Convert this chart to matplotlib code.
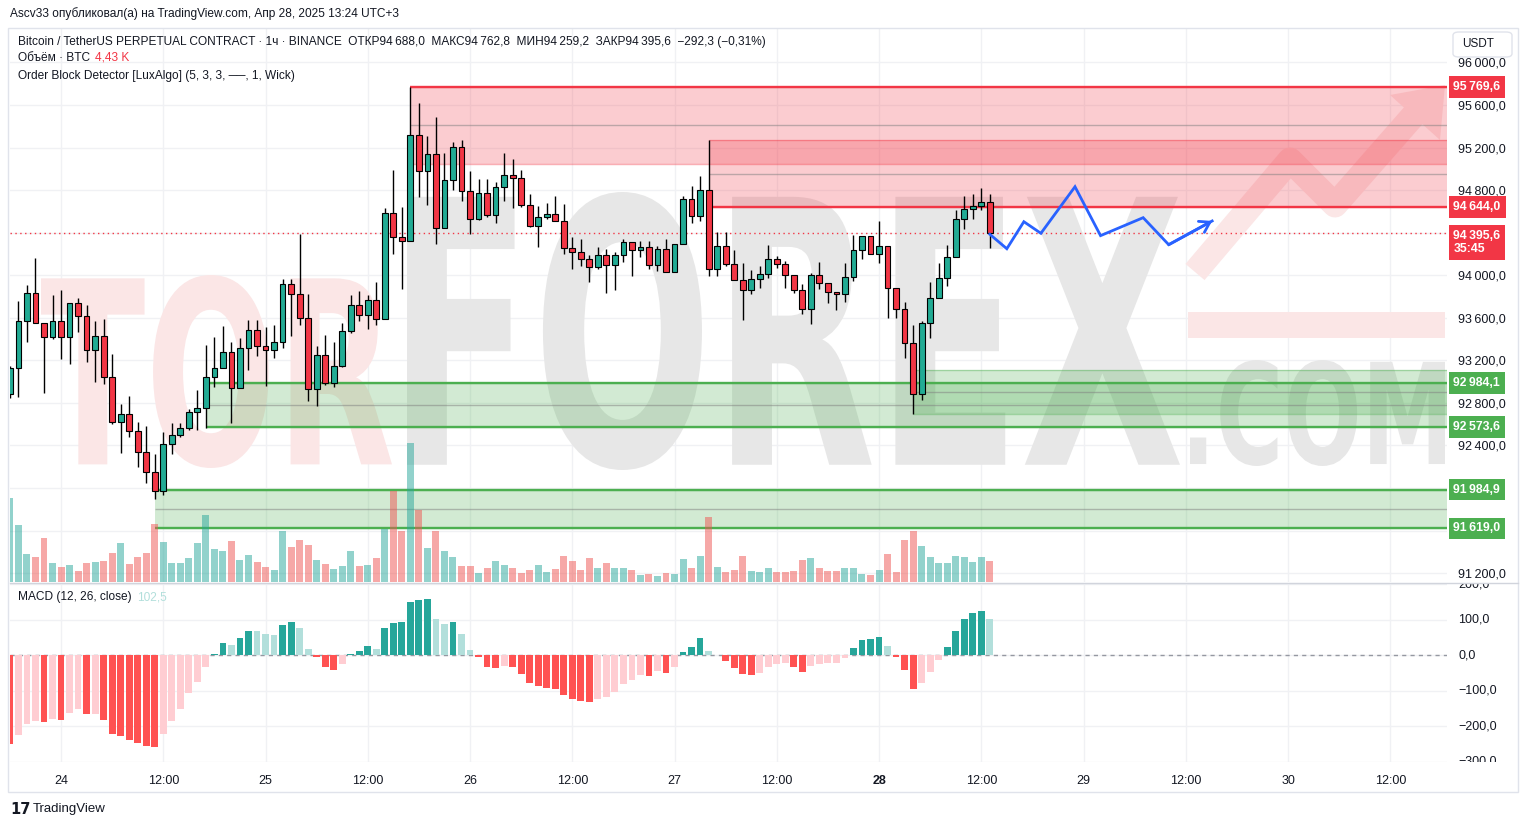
import numpy as np
import pandas as pd
import matplotlib
matplotlib.use("Agg")
import matplotlib.pyplot as plt
from matplotlib.patches import Rectangle, PathPatch, FancyBboxPatch, Polygon
from matplotlib.lines import Line2D
from matplotlib.textpath import TextPath
from matplotlib.font_manager import FontProperties
from matplotlib.transforms import Affine2D, Bbox

plt.rcParams['font.family'] = ['Liberation Sans', 'DejaVu Sans']

W, H = 1528, 827

# BTCUSDT.P 1h, 23 Apr 18:00 .. 28 Apr 13:00 (UTC+3)
first_bar = "2025-04-23 18:00"
first_open = 92880
closes = [93125, 93570, 93829, 93548, 93416, 93570, 93423, 93735, 93613, 93297,
          93432, 93044, 92619, 92694, 92534, 92337, 92149, 91974, 92412, 92497,
          92562, 92712, 92750, 93041, 93125, 93275, 92938, 93313, 93485, 93335,
          93297, 93369, 93914, 93820, 93595, 92928, 93250, 92991, 93147, 93473,
          93716, 93623, 93763, 93585, 94589, 94355, 94326, 95321, 94983, 95143,
          94448, 94899, 95205, 94796, 94533, 94777, 94570, 94830, 94946, 94918,
          94664, 94464, 94549, 94571, 94505, 94252, 94214, 94148, 94080, 94186,
          94092, 94186, 94308, 94236, 94261, 94092, 94242, 94026, 94298, 94721,
          94561, 94805, 94055, 94270, 94101, 93954, 93857, 93961, 94008, 94148,
          94101, 93998, 93857, 93679, 93998, 93923, 93839, 93820, 93986, 94233,
          94373, 94195, 94270, 93879, 93679, 93360, 92885, 93548, 93782, 93970,
          94167, 94524, 94627, 94649, 94688, 94395.6]
highs = [93150, 93757, 93907, 94158, 93548, 93813, 93860, 93735, 93782, 93720,
         93570, 93585, 93257, 92788, 92860, 92619, 92584, 92321, 92522, 92609,
         92609, 92744, 92922, 93344, 93422, 93523, 93372, 93413, 93579, 93579,
         93516, 93532, 93964, 93964, 94392, 93820, 93335, 93438, 93376, 93547,
         93813, 93854, 93813, 93939, 94633, 94986, 94642, 95770, 95618, 95305,
         95487, 95149, 95252, 95268, 94980, 94902, 94902, 94877, 95149, 95090,
         94993, 94761, 94649, 94683, 94743, 94668, 94361, 94345, 94189, 94267,
         94245, 94220, 94345, 94308, 94320, 94320, 94273, 94339, 94298, 94743,
         94836, 94930, 95268, 94402, 94402, 94236, 94111, 94048, 94086, 94283,
         94180, 94133, 93998, 93914, 94017, 94120, 93923, 93839, 94111, 94377,
         94373, 94373, 94508, 94270, 93879, 93745, 93532, 93573, 93932, 94111,
         94283, 94617, 94743, 94768, 94824, 94762.8]
lows = [92850, 92853, 93376, 93548, 92897, 93404, 93210, 93169, 93469, 93188,
        93000, 92975, 92600, 92328, 92478, 92196, 92046, 91896, 91937, 92318,
        92480, 92547, 92547, 92562, 92953, 93125, 92615, 92938, 93110, 93241,
        92963, 93225, 93319, 93432, 93532, 92813, 92775, 92969, 92953, 93135,
        93454, 93573, 93491, 93532, 93585, 94204, 93867, 94326, 94736, 94658,
        94298, 94448, 94799, 94699, 94386, 94520, 94549, 94492, 94699, 94633,
        94643, 94455, 94267, 94524, 94505, 94198, 94061, 94086, 93939, 94055,
        93829, 93861, 94126, 93995, 94173, 94061, 94042, 94026, 94026, 94298,
        94492, 94511, 93995, 93995, 94086, 93954, 93579, 93820, 93876, 93970,
        94064, 93882, 93829, 93632, 93538, 93867, 93736, 93673, 93745, 93945,
        94148, 94195, 94111, 93595, 93595, 93219, 92697, 92828, 93407, 93782,
        93901, 94167, 94430, 94533, 94617, 94259.2]
volumes_k = [17.6, 12.0, 5.9, 5.3, 9.2, 4.0, 3.2, 3.6, 2.3, 4.0,
             4.2, 4.4, 6.1, 8.2, 3.8, 5.3, 6.1, 12.2, 8.4, 4.0,
             4.0, 5.0, 8.2, 14.1, 6.9, 6.5, 8.6, 4.6, 5.7, 4.2,
             3.2, 2.5, 10.7, 7.4, 8.8, 7.8, 4.6, 3.8, 2.7, 3.4,
             6.5, 3.4, 3.6, 5.0, 11.1, 19.1, 10.7, 29.0, 15.1, 7.1,
             10.7, 6.5, 5.3, 3.4, 3.4, 1.9, 2.9, 4.4, 3.6, 2.9,
             1.9, 2.5, 3.6, 2.1, 2.7, 5.5, 4.4, 2.5, 5.0, 2.9,
             4.0, 2.9, 2.9, 2.5, 1.5, 1.7, 1.3, 1.9, 1.7, 4.8,
             2.9, 5.5, 13.7, 3.2, 2.1, 2.5, 5.5, 2.3, 2.1, 2.9,
             2.1, 2.1, 2.3, 4.6, 5.0, 2.9, 2.3, 2.3, 2.9, 2.9,
             1.7, 1.5, 2.5, 5.9, 2.1, 8.8, 10.7, 7.6, 5.3, 4.0,
             4.0, 5.5, 5.3, 4.2, 5.3, 4.43]
macd_hist = [-250, -225, -192, -186, -189, -180, -182, -161, -152, -166,
             -164, -183, -220, -228, -239, -248, -256, -259, -222, -186,
             -150, -107, -74, -32, 4, 35, 29, 49, 68, 67,
             60, 57, 85, 93, 77, 18, -5, -33, -41, -24,
             4, 12, 26, 18, 77, 91, 93, 150, 155, 158,
             102, 88, 93, 60, 15, -5, -33, -36, -30, -33,
             -52, -78, -86, -92, -94, -111, -122, -128, -131, -122,
             -117, -103, -80, -69, -55, -58, -44, -50, -33, 9,
             23, 49, 12, 0.5, -16, -36, -52, -55, -50, -33,
             -24, -23, -33, -47, -30, -24, -23, -21, -7, 21,
             43, 46, 51, 26, -5, -41, -94, -78, -47, -13,
             23, 68, 102, 119, 124, 102.5]

# order blocks (LuxAlgo)
ob_start = ["2025-04-25 17:00", "2025-04-27 04:00", "2025-04-24 17:00",
            "2025-04-28 04:00", "2025-04-24 11:00"]
ob_top = [95769.6, 95268, 92984.1, 93110, 91984.9]
ob_bottom = [95050, 94644.0, 92573.6, 92697, 91619.0]
ob_bull = [False, False, True, True, True]
level_values = [95769.6, 94644.0, 92984.1, 92573.6, 91984.9, 91619.0]
level_start = ["2025-04-25 17:00", "2025-04-27 04:00", "2025-04-24 17:00",
               "2025-04-24 17:00", "2025-04-24 11:00", "2025-04-24 11:00"]
level_bull = [False, False, True, True, True, True]

# hand-drawn projection
proj_time = ["2025-04-28 13:00", "2025-04-28 15:00", "2025-04-28 17:00",
             "2025-04-28 19:00", "2025-04-28 23:00", "2025-04-29 02:00",
             "2025-04-29 07:00", "2025-04-29 10:00", "2025-04-29 15:06"]
proj_price = [94385, 94249, 94503, 94394, 94832, 94372, 94541, 94287, 94510]

time_ticks = ["24", "12:00", "25", "12:00", "26", "12:00", "27", "12:00",
              "28", "12:00", "29", "12:00", "30", "12:00"]

TEAL, RED = "#22ab94", "#f23645"
GREEN = "#4caf50"
TXT = "#131722"

t0 = pd.Timestamp("2025-04-24 00:00")
hours = lambda t: ((pd.to_datetime(t) - t0) / pd.Timedelta(hours=1))

times = pd.date_range(first_bar, periods=len(closes), freq="h")
x = np.asarray(hours(times), dtype=float)
closes = np.array(closes, dtype=float)
opens = np.r_[first_open, closes[:-1]]
up = closes >= opens


def fmt(v):
    s = f"{abs(v):,.1f}".replace(",", "\u2009").replace(".", ",")
    return ("\u2212" if v < 0 else "") + s


fig = plt.figure(figsize=(W / 100, H / 100), dpi=100)
fig.patch.set_facecolor("white")
L, R = 10, 1447
ax = fig.add_axes([L / W, 1 - 582 / H, (R - L) / W, (582 - 28) / H])
mx = fig.add_axes([L / W, 1 - 762 / H, (R - L) / W, (762 - 583) / H], sharex=ax)
vx = ax.twinx()

xlim = (-5.99, 162.66)
ax.set_xlim(*xlim)
ax.set_ylim(91116, 96324)
mx.set_ylim(-297, 203)
vx.set_ylim(0, max(volumes_k) * 4.0)

for a in (ax, mx, vx):
    for s in a.spines.values():
        s.set_visible(False)
vx.axis("off")

ax.set_axisbelow(True)
mx.set_axisbelow(True)
ax.grid(True, color="#f0f1f4", lw=1)
mx.grid(True, color="#f0f1f4", lw=1)

# watermark (pixel layout)
px = Affine2D().scale(1, -1).translate(0, H).scale(1 / W, 1 / H) + fig.transFigure


def watermark(text, x0, y0, x1, y1, color):
    tp = TextPath((0, 0), text, size=100,
                  prop=FontProperties(family="DejaVu Sans", weight="bold"))
    e = tp.get_extents()
    tr = (Affine2D().translate(-e.x0, -e.y0)
          .scale((x1 - x0) / e.width, (y1 - y0) / e.height)
          .translate(x0, H - y1).scale(1 / W, 1 / H) + fig.transFigure)
    ax.add_patch(PathPatch(tp, transform=tr, fc=color, ec="none", zorder=0.8))


watermark("TOR", 41, 275, 392, 468, "#fbe6e6")
watermark("FOREX", 407, 192, 1180, 470, "#e7e7e7")
watermark(".COM", 1190, 360, 1445, 466, "#e7e7e7")
ax.add_patch(Rectangle((1188, 312), 257, 26, transform=px, fc="#fbe6e6", ec="none", zorder=0.8))
ax.add_line(Line2D([1195, 1290, 1335, 1420], [272, 160, 205, 108], transform=px,
                   color="#fbe6e6", lw=18, solid_capstyle="butt", zorder=0.8))
ax.add_patch(Polygon([[1390, 95], [1445, 85], [1440, 140]], closed=True, transform=px,
                     fc="#fbe6e6", ec="none", zorder=0.8))

# order blocks
xr = xlim[1] + 5
for s, top, bot, bull in zip(ob_start, ob_top, ob_bottom, ob_bull):
    xs = hours(s)
    c = GREEN if bull else RED
    ax.add_patch(Rectangle((xs, bot), xr - xs, top - bot, fc=c, alpha=0.25, ec="none", zorder=1))
    ax.hlines([top, bot], xs, xr, colors=c, alpha=0.4, lw=1, zorder=1.2)
    ax.hlines((top + bot) / 2, xs, xr, colors="#7f7f7f", alpha=0.5, lw=1, zorder=1.2)
for v, s, bull in zip(level_values, level_start, level_bull):
    ax.hlines(v, hours(s), xr, colors=GREEN if bull else RED, lw=1.7, zorder=1.5)

# candles
ax.vlines(x, lows, highs, color="black", lw=1, zorder=3)
ax.bar(x, closes - opens, bottom=opens, width=0.68, color=np.where(up, TEAL, RED),
       edgecolor="black", linewidth=0.8, zorder=4)
ax.axhline(closes[-1], color=RED, ls=(0, (1, 2.5)), lw=1, zorder=2)

# volume
vx.bar(x, volumes_k, width=0.82, color=np.where(up, "#26a69a", "#ef5350"), alpha=0.5, zorder=2)

# projection
pxs = np.asarray(hours(proj_time), dtype=float)
ax.plot(pxs, proj_price, color="#2962ff", lw=2, zorder=6, solid_joinstyle="miter")
ax.annotate("", xy=(pxs[-1], proj_price[-1]), xytext=(pxs[-2], proj_price[-2]),
            arrowprops=dict(arrowstyle="->,head_length=0.7,head_width=0.45", color="#2962ff",
                            lw=2, shrinkA=0, shrinkB=0), zorder=6)

# price scale
ax.yaxis.tick_right()
pticks = np.arange(91200, 96001, 400)
hidden = {94400, 92000, 91600}
ax.set_yticks(pticks)
ax.set_yticklabels(["" if int(t) in hidden else fmt(t) for t in pticks])
ax.tick_params(axis="y", length=0, pad=8, labelsize=9, labelcolor=TXT)
ax.tick_params(axis="x", length=0, labelbottom=False)
vx.set_zorder(ax.get_zorder() + 0.1)


def tag(y, text, color, va="center", dy=0):
    ax.annotate(text, xy=(1, y), xycoords=ax.get_yaxis_transform(), xytext=(4.6, dy),
                textcoords="offset points", ha="left", va=va, color="white",
                fontsize=8.8, fontweight="bold", linespacing=1.2,
                bbox=dict(boxstyle="square,pad=0.4", fc=color, ec="none"),
                annotation_clip=False, zorder=10)


for v, bull in zip(level_values, level_bull):
    tag(v, fmt(v), GREEN if bull else RED)
tag(closes[-1], fmt(closes[-1]) + "\n35:45", RED, va="top", dy=2.5)

# MACD
macd = np.array(macd_hist, dtype=float)
prev = np.r_[0, macd[:-1]]
rising = macd >= prev
mcol = np.where(macd >= 0, np.where(rising, "#26a69a", "#b2dfdb"),
                np.where(rising, "#ffcdd2", "#ff5252"))
mx.bar(x, macd, width=0.8, color=mcol, zorder=2)
mx.axhline(0, color="#9598a1", ls=(0, (3, 3)), lw=1, zorder=1.5)
mx.set_yticks(np.arange(-300, 201, 100))
mx.tick_params(axis="y", left=False, right=False, labelleft=False, length=0)
mx.set_xticks(np.arange(0, 157, 12))
mx.set_xticklabels(time_ticks)
mx.tick_params(axis="x", length=0, pad=9, labelsize=9, labelcolor=TXT)
mx.get_xticklabels()[8].set_fontweight("bold")
clip = Bbox([[R, H - 762], [W, H - 583]])
for v in np.arange(-300, 201, 100):
    t = mx.annotate(fmt(v), xy=(1, v), xycoords=mx.get_yaxis_transform(), xytext=(8, 0),
                    textcoords="offset points", ha="left", va="center", fontsize=9,
                    color=TXT, annotation_clip=False)
    t.set_clip_box(clip)
    t.set_clip_on(True)

# frame and separators
fig.add_artist(Rectangle((8 / W, 1 - 792 / H), 1510 / W, 764 / H, transform=fig.transFigure,
                         fill=False, ec="#e0e3eb", lw=1))
fig.add_artist(Line2D([L / W, 1518 / W], [1 - 582.5 / H] * 2, transform=fig.transFigure,
                      color="#d1d4dc", lw=1))
fig.add_artist(FancyBboxPatch((1453 / W, 1 - 57 / H), 59 / W, 25 / H,
                              boxstyle="round,pad=0,rounding_size=0.004",
                              transform=fig.transFigure, fc="white", ec="#e0e3eb", lw=1))
fig.text(1462 / W, 1 - 44 / H, "USDT", fontsize=8.5, color=TXT, va="center")

# texts
fig.text(10 / W, 1 - 14 / H, "Ascv33 опубликовал(а) на TradingView.com, Апр 28, 2025 13:24 UTC+3",
         fontsize=8.6, color=TXT, va="center")
fig.text(18 / W, 1 - 42 / H,
         "Bitcoin / TetherUS PERPETUAL CONTRACT · 1ч · BINANCE  ОТКР94\u2009688,0  МАКС94\u2009762,8  "
         "МИН94\u2009259,2  ЗАКР94\u2009395,6  \u2212292,3 (\u22120,31%)",
         fontsize=8.6, color=TXT, va="center")
fig.text(18 / W, 1 - 58 / H, "Объём · BTC", fontsize=8.6, color=TXT, va="center")
fig.text(95 / W, 1 - 58 / H, "4,43 K", fontsize=8.6, color=RED, va="center")
fig.text(18 / W, 1 - 76 / H, "Order Block Detector [LuxAlgo] (5, 3, 3, \u2500\u2500, 1, Wick)",
         fontsize=8.6, color=TXT, va="center")
fig.text(18 / W, 1 - 597 / H, "MACD (12, 26, close)", fontsize=8.6, color=TXT, va="center")
fig.text(137 / W, 1 - 597 / H, "102,5", fontsize=8.6, color="#b2dfdb", va="center")
fig.text(10 / W, 1 - 809 / H, "17", fontsize=10.5, fontweight="heavy", color=TXT, va="center",
         family="DejaVu Sans")
fig.text(33 / W, 1 - 809 / H, "TradingView", fontsize=9.5, color=TXT, va="center")

fig.savefig("out.png", dpi=100, facecolor="white")
